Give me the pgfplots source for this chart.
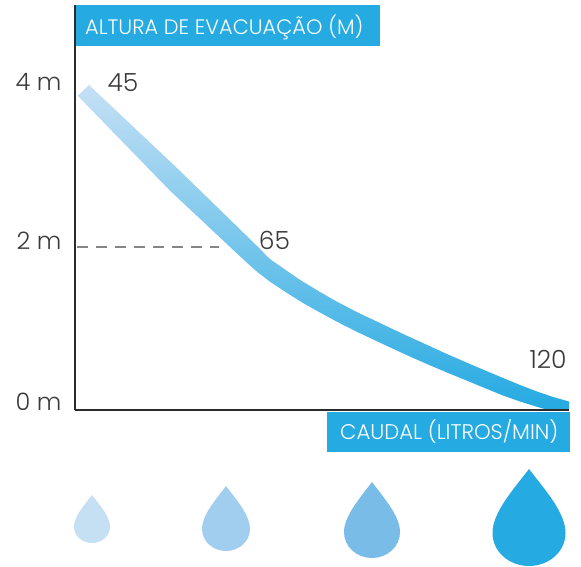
\documentclass[border=0pt]{standalone}
\usepackage{pgfplots}
\pgfplotsset{compat=1.18}
\usepackage{fontspec}
\setmainfont{Poppins}[UprightFont=* Light]
\definecolor{boxblue}{HTML}{25AAE1}
\definecolor{ink}{HTML}{3A3A3A}
\definecolor{axisink}{HTML}{2B2B2B}
\definecolor{dashgray}{HTML}{858585}
\definecolor{bandtop}{HTML}{C5E0F5}
\definecolor{bandmid}{HTML}{7FC0EA}
\definecolor{dropa}{HTML}{C5DFF3}
\definecolor{dropb}{HTML}{A1CEEE}
\definecolor{dropc}{HTML}{7ABCE8}
\newcommand{\drop}[5]{% cx, tip y, bottom y, half width, colour (pixel units)
  \fill[#5] (#1,#2)
   .. controls ({#1+0.45*#4},{#2+0.22*(#3-#2)}) and ({#1+#4},{#2+0.45*(#3-#2)}) .. ({#1+#4},{#2+0.66*(#3-#2)})
   .. controls ({#1+#4},{#2+0.85*(#3-#2)}) and ({#1+0.55*#4},{#3}) .. (#1,#3)
   .. controls ({#1-0.55*#4},{#3}) and ({#1-#4},{#2+0.85*(#3-#2)}) .. ({#1-#4},{#2+0.66*(#3-#2)})
   .. controls ({#1-#4},{#2+0.45*(#3-#2)}) and ({#1-0.45*#4},{#2+0.22*(#3-#2)}) .. (#1,#2) -- cycle;}
\begin{document}
\begin{tikzpicture}
\begin{axis}[
  scale only axis, width=494pt, height=405pt,
  xmin=75, xmax=569, ymin=0, ymax=4.969,
  axis lines=left, axis line style={axisink, line width=2.5pt, -},
  axis on top,
  xtick=\empty, ytick={0,2,4},
  yticklabels={\raisebox{16pt}{0 m},\raisebox{12pt}{2 m},\raisebox{4pt}{4 m}},
  major tick length=0pt,
  yticklabel style={font=\fontsize{24}{24}\selectfont, text=ink, xshift=-10pt},
  clip=false,
]
% gradient band: upper edge then lower edge (x = position along axis, y = metres)
\addplot[draw=none, shade, top color=bandtop, middle color=bandmid, bottom color=boxblue] coordinates {
 (89,3.988) (178,2.957) (253,2.061) (258,2.0) (263,1.939) (267,1.885) (272,1.834) (280,1.767) (287,1.706)
 (303,1.574) (320,1.448) (337,1.329) (358,1.195) (380,1.067) (402,0.939) (425,0.810) (447,0.687) (470,0.564)
 (503,0.393) (520,0.307) (537,0.227) (553,0.160) (569,0.104)
 (569,0) (548,0) (537,0.039) (520,0.104) (503,0.178) (487,0.258) (470,0.344) (447,0.460) (428,0.558) (410,0.656)
 (395,0.740) (380,0.826) (358,0.953) (337,1.083) (320,1.196) (303,1.313) (287,1.436) (270,1.574) (258,1.687)
 (250,1.773) (245,1.828) (170,2.691) (77.7,3.856)
} -- cycle;
\addplot[draw=dashgray, line width=2.6pt, dash pattern=on 11pt off 8pt] coordinates {(77,2) (219,2)};
\node[text=ink, font=\fontsize{25}{25}\selectfont] at (axis cs:123,4.02) {45};
\node[text=ink, font=\fontsize{25}{25}\selectfont] at (axis cs:274.5,2.08) {65};
\node[text=ink, font=\fontsize{25}{25}\selectfont] at (axis cs:548,0.62) {120};
\end{axis}
\begin{scope}[shift={(-75pt,410pt)},x=1pt,y=-1pt]
 \path[use as bounding box] (0,0) rectangle (581,566);
 \fill[boxblue] (76,5) rectangle (380,46);
 \fill[boxblue] (327,412) rectangle (570,452);
 \node[text=white, font=\fontsize{20.9}{21}\selectfont, anchor=west, inner sep=0pt] at (85,27) {ALTURA DE EVACUAÇÃO (M)};
 \node[text=white, font=\fontsize{21.2}{21}\selectfont, anchor=west, inner sep=0pt] at (340,432) {CAUDAL (LITROS/MIN)};
 \drop{92}{495}{543}{18}{dropa}
 \drop{226}{486}{551}{24}{dropb}
 \drop{372}{482}{558}{28}{dropc}
 \drop{529}{469}{566}{36.5}{boxblue}
\end{scope}
\end{tikzpicture}
\end{document}
